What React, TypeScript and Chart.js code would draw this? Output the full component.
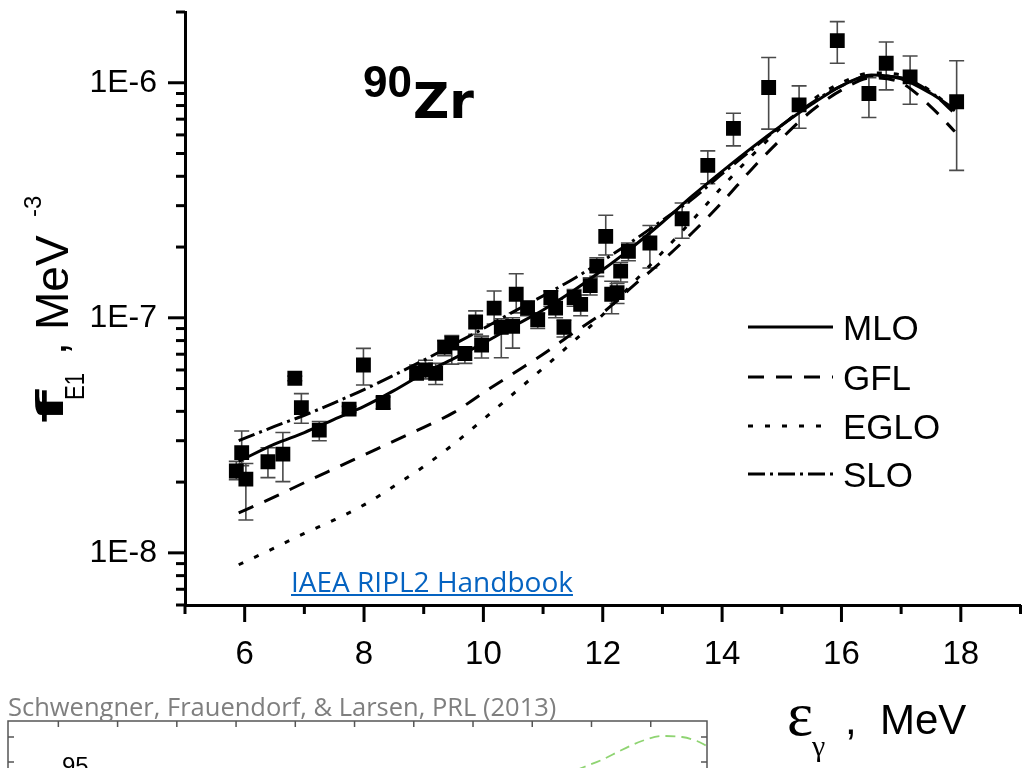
import React, { useEffect, useRef } from 'react';
import { Chart, registerables } from 'chart.js';

Chart.register(...registerables);

// ---------- data ----------
const X_MIN = 5;
const X_MAX = 19;
const Y_MIN = 6e-9;
const Y_MAX = 2e-6;
const xMajorTicks = [6, 8, 10, 12, 14, 16, 18];

// experimental points (photon energy MeV, strength, error low, error high)
const expE = [5.86, 5.95, 6.02, 6.39, 6.64, 6.84, 6.95, 7.25, 7.75, 7.99, 8.32, 8.88, 9.03, 9.2, 9.35, 9.47, 9.69, 9.87, 9.97, 10.18, 10.3, 10.49, 10.55, 10.74, 10.91, 11.13, 11.21, 11.35, 11.52, 11.63, 11.79, 11.9, 12.05, 12.15, 12.24, 12.3, 12.43, 12.79, 13.33, 13.76, 14.19, 14.78, 15.29, 15.93, 16.46, 16.75, 17.15, 17.93];
const expF = [2.23e-8, 2.67e-8, 2.06e-8, 2.44e-8, 2.63e-8, 5.53e-8, 4.15e-8, 3.33e-8, 4.09e-8, 6.3e-8, 4.36e-8, 5.8e-8, 6.0e-8, 5.8e-8, 7.5e-8, 7.8e-8, 7.05e-8, 9.6e-8, 7.66e-8, 1.1e-7, 9.1e-8, 9.2e-8, 1.26e-7, 1.1e-7, 9.8e-8, 1.22e-7, 1.1e-7, 9.1e-8, 1.22e-7, 1.14e-7, 1.37e-7, 1.66e-7, 2.22e-7, 1.26e-7, 1.28e-7, 1.58e-7, 1.92e-7, 2.08e-7, 2.64e-7, 4.45e-7, 6.4e-7, 9.55e-7, 8.05e-7, 1.51e-6, 9.0e-7, 1.21e-6, 1.06e-6, 8.3e-7];
const expLo = [2.05e-8, 2.35e-8, 1.38e-8, 2.09e-8, 2.01e-8, 5.4e-8, 3.56e-8, 3.0e-8, 3.95e-8, 5.18e-8, 4.1e-8, 5.5e-8, 5.5e-8, 5.2e-8, 6.9e-8, 6.35e-8, 6.4e-8, 8.5e-8, 6.75e-8, 9.4e-8, 6.76e-8, 7.43e-8, 1.05e-7, 1.02e-7, 9.0e-8, 1.12e-7, 1.0e-7, 8.28e-8, 1.12e-7, 1.02e-7, 1.25e-7, 1.5e-7, 1.85e-7, 1.04e-7, 1.15e-7, 1.42e-7, 1.75e-7, 1.63e-7, 2.18e-7, 3.72e-7, 5.39e-7, 6.35e-7, 6.4e-7, 1.21e-6, 7.12e-7, 9.33e-7, 8.1e-7, 4.24e-7];
const expHi = [2.45e-8, 3.3e-8, 2.4e-8, 2.8e-8, 3.25e-8, 5.65e-8, 4.76e-8, 3.62e-8, 4.2e-8, 7.41e-8, 4.6e-8, 6.3e-8, 6.6e-8, 6.4e-8, 8.0e-8, 8.4e-8, 7.5e-8, 1.07e-7, 8.36e-8, 1.3e-7, 9.9e-8, 1.0e-7, 1.54e-7, 1.18e-7, 1.05e-7, 1.3e-7, 1.2e-7, 9.8e-8, 1.32e-7, 1.25e-7, 1.48e-7, 1.8e-7, 2.73e-7, 1.43e-7, 1.4e-7, 1.72e-7, 2.08e-7, 2.47e-7, 3.08e-7, 5.13e-7, 7.42e-7, 1.28e-6, 9.7e-7, 1.82e-6, 1.05e-6, 1.49e-6, 1.3e-6, 1.24e-6];

// model curves
const curveE = [5.9, 6.5, 7, 7.5, 8, 8.5, 9, 9.5, 10, 10.5, 11, 11.5, 12, 12.5, 13, 13.5, 14, 14.5, 15, 15.5, 16, 16.5, 17, 17.5, 17.9];
const mloF = [2.45e-8, 2.9e-8, 3.25e-8, 3.7e-8, 4.2e-8, 4.9e-8, 5.8e-8, 6.7e-8, 7.8e-8, 9.2e-8, 1.08e-7, 1.3e-7, 1.6e-7, 2.0e-7, 2.55e-7, 3.3e-7, 4.2e-7, 5.3e-7, 6.6e-7, 8.1e-7, 9.7e-7, 1.08e-6, 1.04e-6, 9.0e-7, 7.7e-7];
const gflF = [1.48e-8, 1.73e-8, 1.99e-8, 2.28e-8, 2.61e-8, 2.99e-8, 3.42e-8, 3.95e-8, 4.8e-8, 5.8e-8, 7.0e-8, 8.6e-8, 1.05e-7, 1.36e-7, 1.75e-7, 2.3e-7, 3.1e-7, 4.3e-7, 5.8e-7, 7.6e-7, 9.3e-7, 1.05e-6, 1.0e-6, 7.9e-7, 6.2e-7];
const egloF = [8.9e-9, 1.05e-8, 1.21e-8, 1.38e-8, 1.6e-8, 1.92e-8, 2.33e-8, 2.9e-8, 3.7e-8, 4.75e-8, 6.1e-8, 7.9e-8, 1.03e-7, 1.4e-7, 1.9e-7, 2.6e-7, 3.6e-7, 4.9e-7, 6.5e-7, 8.4e-7, 1.0e-6, 1.1e-6, 1.08e-6, 9.2e-7, 7.6e-7];
const sloF = [3.0e-8, 3.45e-8, 3.85e-8, 4.35e-8, 4.95e-8, 5.7e-8, 6.6e-8, 7.7e-8, 9.0e-8, 1.06e-7, 1.24e-7, 1.46e-7, 1.75e-7, 2.12e-7, 2.6e-7, 3.2e-7, 4.1e-7, 5.2e-7, 6.6e-7, 8.2e-7, 9.7e-7, 1.07e-6, 1.05e-6, 9.1e-7, 7.4e-7];
const modelNames = ['MLO', 'GFL', 'EGLO', 'SLO'];

// inset (clipped second figure)
const insetX = [9.5, 9.83, 10.17, 10.51, 10.85, 11.19, 11.53, 11.78, 11.95];
const insetY = [10.4, 10.76, 11.08, 11.48, 11.84, 12.04, 12.0, 11.84, 11.64];
const insetXTicks = [1, 2, 3, 4, 5, 6, 7, 8, 9, 10, 11];
const insetYTicks = [11, 12];

// ---------- styles ----------
const SANS = "'Liberation Sans', Arial, sans-serif";
const SERIF = "'Liberation Serif', 'Times New Roman', serif";
const OPEN = "'Open Sans', sans-serif";
const DEJAVU = "'DejaVu Sans', sans-serif";

const dashes: Record<string, number[]> = {
  MLO: [],
  GFL: [16, 12],
  EGLO: [5, 12],
  SLO: [17, 5, 3, 5],
};

function yTickValues(): number[] {
  const out: number[] = [];
  for (let d = -9; d <= -6; d++) {
    for (let m = 1; m <= 9; m++) {
      const v = m * Math.pow(10, d);
      if (v >= Y_MIN * 0.999 && v <= Y_MAX * 1.001) out.push(v);
    }
  }
  return out;
}
const isDecade = (v: number) => Math.abs(Math.log10(v) - Math.round(Math.log10(v))) < 1e-6;

function T(props: any) {
  const { x, base, size, family = SANS, weight, color = '#000', children, style } = props;
  let k = 0.8465;
  if (family === OPEN) k = 0.888;
  else if (family === SERIF) k = 0.8375;
  else if (family === DEJAVU) k = 0.846;
  return (
    <span
      style={{
        position: 'absolute',
        left: x,
        top: base - k * size,
        fontSize: size,
        lineHeight: `${size}px`,
        fontFamily: family,
        fontWeight: weight,
        color,
        whiteSpace: 'nowrap',
        ...style,
      }}
    >
      {children}
    </span>
  );
}

export default function App() {
  const mainRef = useRef<HTMLCanvasElement>(null);
  const insetRef = useRef<HTMLCanvasElement>(null);

  useEffect(() => {
    const ticksPlugin = {
      id: 'axisTicks',
      afterDraw(chart: any) {
        const { ctx, chartArea: a, scales } = chart;
        const xs = scales.x;
        const ys = scales.y;
        ctx.save();
        ctx.strokeStyle = '#000';
        ctx.lineWidth = 3;
        ctx.lineCap = 'butt';
        xs.ticks.forEach((t: any) => {
          const px = xs.getPixelForValue(t.value);
          const len = xMajorTicks.includes(t.value) ? 17 : 9;
          ctx.beginPath();
          ctx.moveTo(px, a.bottom);
          ctx.lineTo(px, a.bottom + len);
          ctx.stroke();
        });
        ys.ticks.forEach((t: any) => {
          const py = ys.getPixelForValue(t.value);
          const len = isDecade(t.value) ? 17 : 9;
          ctx.beginPath();
          ctx.moveTo(a.left - len, py);
          ctx.lineTo(a.left, py);
          ctx.stroke();
        });
        ctx.restore();
      },
    };

    const errorBarsPlugin = {
      id: 'errorBars',
      beforeDatasetsDraw(chart: any) {
        const { ctx, scales } = chart;
        const xs = scales.x;
        const ys = scales.y;
        ctx.save();
        ctx.strokeStyle = '#4a4a4a';
        ctx.lineWidth = 1.6;
        expE.forEach((e, i) => {
          const px = xs.getPixelForValue(e);
          const lo = ys.getPixelForValue(expLo[i]);
          const hi = ys.getPixelForValue(expHi[i]);
          ctx.beginPath();
          ctx.moveTo(px, lo);
          ctx.lineTo(px, hi);
          ctx.moveTo(px - 7.5, lo);
          ctx.lineTo(px + 7.5, lo);
          ctx.moveTo(px - 7.5, hi);
          ctx.lineTo(px + 7.5, hi);
          ctx.stroke();
        });
        ctx.restore();
      },
    };

    const legendRowsY = [327, 377, 426, 474];
    const legendPlugin = {
      id: 'customLegend',
      afterDatasetsDraw(chart: any) {
        const { ctx } = chart;
        ctx.save();
        chart.data.datasets.slice(1).forEach((ds: any, i: number) => {
          const ly = legendRowsY[i];
          ctx.strokeStyle = '#000';
          ctx.lineWidth = 3;
          ctx.lineCap = 'butt';
          ctx.setLineDash(ds.borderDash || []);
          ctx.beginPath();
          ctx.moveTo(748, ly);
          ctx.lineTo(833, ly);
          ctx.stroke();
          ctx.setLineDash([]);
          ctx.fillStyle = '#000';
          ctx.font = `35px ${SANS}`;
          ctx.textBaseline = 'alphabetic';
          ctx.textAlign = 'left';
          ctx.fillText(ds.label, 843, ly + 12.5);
        });
        ctx.restore();
      },
    };

    const curve = (name: string, vals: number[]) => ({
      label: name,
      data: curveE.map((x, i) => ({ x, y: vals[i] })),
      showLine: true,
      borderColor: '#000',
      borderWidth: 3,
      borderDash: dashes[name],
      borderCapStyle: 'butt',
      pointRadius: 0,
      fill: false,
      cubicInterpolationMode: 'monotone',
    });

    const main = new Chart(mainRef.current as HTMLCanvasElement, {
      type: 'scatter',
      data: {
        datasets: [
          {
            label: 'data',
            data: expE.map((x, i) => ({ x, y: expF[i] })),
            pointStyle: 'rect',
            pointRadius: 10.5,
            pointBackgroundColor: '#000',
            pointBorderWidth: 0,
            showLine: false,
          } as any,
          curve(modelNames[0], mloF),
          curve(modelNames[1], gflF),
          curve(modelNames[2], egloF),
          curve(modelNames[3], sloF),
        ],
      },
      options: {
        animation: false,
        responsive: false,
        events: [],
        layout: { padding: { top: 12, right: 4, left: 0, bottom: 0 } },
        plugins: { legend: { display: false }, tooltip: { enabled: false } },
        scales: {
          x: {
            type: 'linear',
            min: X_MIN,
            max: X_MAX,
            afterFit: (s: any) => {
              s.height = 163;
              s.paddingLeft = 0;
              s.paddingRight = 0;
            },
            grid: { display: false, drawTicks: false, tickLength: 0 },
            border: { display: true, color: '#000', width: 3 },
            ticks: {
              stepSize: 1,
              autoSkip: false,
              maxRotation: 0,
              padding: 30,
              color: '#000',
              font: { family: SANS, size: 33 },
              callback: (v: any) => (xMajorTicks.includes(Number(v)) ? String(v) : ''),
            },
          },
          y: {
            type: 'logarithmic',
            min: Y_MIN,
            max: Y_MAX,
            afterFit: (s: any) => {
              s.width = 185;
              s.paddingTop = 0;
              s.paddingBottom = 0;
            },
            afterBuildTicks: (s: any) => {
              s.ticks = yTickValues().map((v) => ({ value: v }));
            },
            grid: { display: false, drawTicks: false, tickLength: 0 },
            border: { display: true, color: '#000', width: 3 },
            ticks: {
              autoSkip: false,
              padding: 28,
              color: '#000',
              font: { family: SANS, size: 32 },
              callback: (v: any) => {
                const n = Number(v);
                return isDecade(n) ? `1E${Math.round(Math.log10(n))}` : '';
              },
            },
          },
        },
      } as any,
      plugins: [errorBarsPlugin, ticksPlugin, legendPlugin],
    });

    const insetFrame = {
      id: 'insetFrame',
      afterDraw(chart: any) {
        const { ctx, chartArea: a, scales } = chart;
        ctx.save();
        ctx.strokeStyle = '#555';
        ctx.lineWidth = 1.5;
        ctx.strokeRect(a.left, a.top, a.right - a.left, a.bottom - a.top);
        insetXTicks.forEach((t) => {
          const px = scales.x.getPixelForValue(t);
          ctx.beginPath();
          ctx.moveTo(px, a.top);
          ctx.lineTo(px, a.top + 6);
          ctx.stroke();
        });
        insetYTicks.forEach((t) => {
          const py = scales.y.getPixelForValue(t);
          ctx.beginPath();
          ctx.moveTo(a.right, py);
          ctx.lineTo(a.right - 6, py);
          ctx.moveTo(a.left, py);
          ctx.lineTo(a.left + 6, py);
          ctx.stroke();
        });
        ctx.restore();
      },
    };

    const inset = new Chart(insetRef.current as HTMLCanvasElement, {
      type: 'scatter',
      data: {
        datasets: [
          {
            label: 'inset',
            data: insetX.map((x, i) => ({ x, y: insetY[i] })),
            showLine: true,
            borderColor: '#8fd472',
            borderWidth: 1.8,
            borderDash: [10, 6],
            pointRadius: 0,
            cubicInterpolationMode: 'monotone',
          } as any,
        ],
      },
      options: {
        animation: false,
        responsive: false,
        events: [],
        layout: { padding: { top: 3, right: 1, left: 2, bottom: 1 } },
        plugins: { legend: { display: false }, tooltip: { enabled: false } },
        scales: {
          x: { type: 'linear', display: false, min: 0.15, max: 11.95 },
          y: { type: 'linear', display: false, min: 0, max: 12.64 },
        },
      } as any,
      plugins: [insetFrame],
    });

    return () => {
      main.destroy();
      inset.destroy();
    };
  }, []);

  return (
    <div
      style={{
        position: 'absolute',
        left: 0,
        top: 0,
        width: 1031,
        height: 768,
        overflow: 'hidden',
        background: '#fff',
      }}
    >
      <div style={{ position: 'absolute', left: 6, top: 718, width: 702, height: 50, overflow: 'hidden' }}>
        <canvas ref={insetRef} width={702} height={320} style={{ display: 'block' }} />
      </div>
      <canvas
        ref={mainRef}
        width={1031}
        height={768}
        style={{ position: 'absolute', left: 0, top: 0, width: 1031, height: 768, display: 'block' }}
      />

      {/* nucleus label */}
      <T x={363} base={97} size={44} weight="bold">90</T>
      <T x={413} base={118} size={50} family={DEJAVU} weight="bold">Zr</T>

      {/* link */}
      <T x={291} base={591.7} size={28} family={OPEN} color="#0563C1" style={{ textDecoration: 'underline' }}>
        IAEA RIPL2 Handbook
      </T>

      {/* citation */}
      <T x={8} base={716.7} size={25.5} family={OPEN} color="#7f7f7f">
        Schwengner, Frauendorf, &amp; Larsen, PRL (2013)
      </T>
      <T x={62} base={774} size={24}>95</T>

      {/* x-axis title */}
      <T x={787} base={735} size={62} family={SERIF}>ε</T>
      <T x={812} base={756} size={30} family={SERIF}>γ</T>
      <T x={845} base={735} size={42}>,</T>
      <T x={880} base={735} size={42}>MeV</T>

      {/* y-axis title (rotated) */}
      <div
        style={{
          position: 'absolute',
          left: 0,
          top: 768,
          width: 0,
          height: 0,
          transform: 'rotate(-90deg)',
          transformOrigin: '0 0',
        }}
      >
        <T
          x={345}
          base={63}
          size={38}
          family={DEJAVU}
          weight="bold"
          style={{ transform: 'scaleX(2)', transformOrigin: '0 50%' }}
        >
          f
        </T>
        <T x={368} base={85} size={27} style={{ transform: 'scaleX(0.82)', transformOrigin: '0 50%' }}>
          E1
        </T>
        <T x={413} base={66} size={46}>,</T>
        <T x={438} base={68} size={46}>MeV</T>
        <T x={551} base={41} size={24}>-3</T>
      </div>
    </div>
  );
}
